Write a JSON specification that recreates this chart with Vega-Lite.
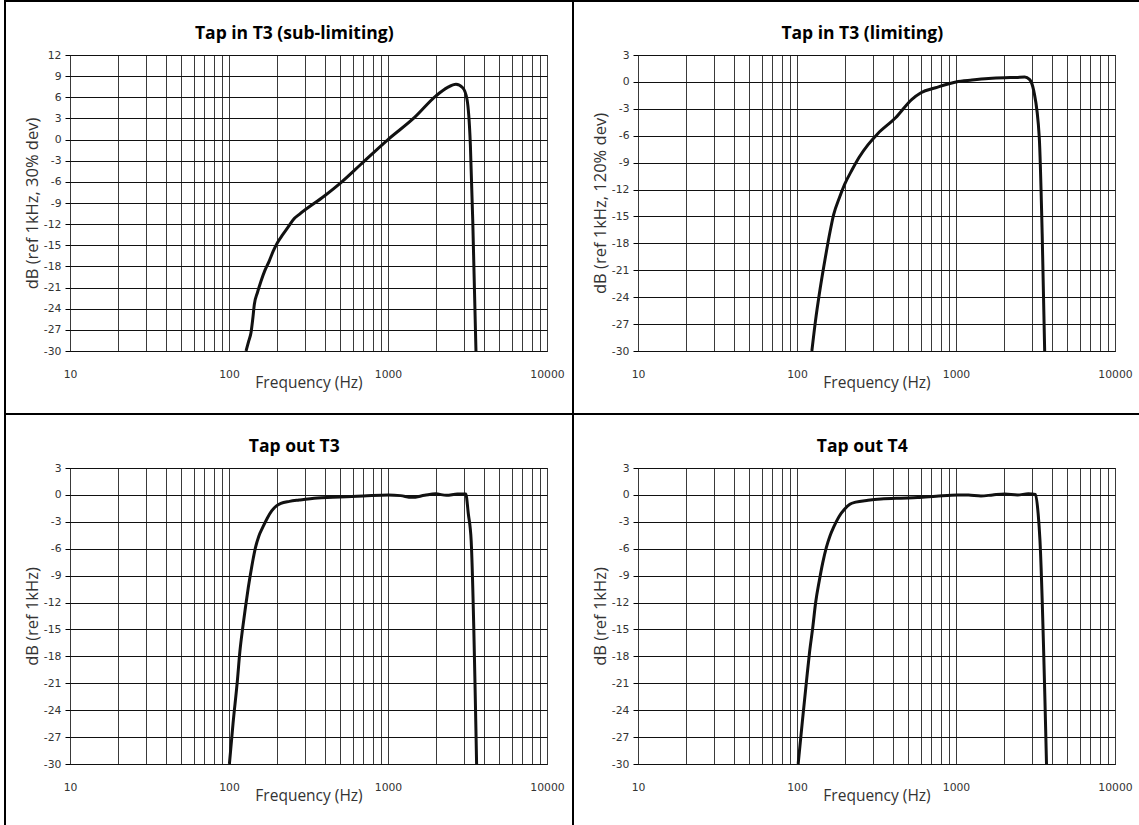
{
  "$schema": "https://vega.github.io/schema/vega-lite/v6.json",
  "background": "white",
  "padding": {"left": 4, "top": 0, "right": 0, "bottom": 0},
  "config": {
    "concat": {"spacing": 0},
    "view": {"stroke": null, "fill": null},
    "axis": {"labelFont": "DejaVu Sans", "labelFontSize": 10.8, "labelColor": "#333", "titleFont": "Open Sans", "titleFontWeight": "normal", "titleColor": "#333"},
    "axisX": {"titleFontSize": 15.5},
    "axisY": {"titleFontSize": 16.5},
    "title": {"font": "Open Sans", "fontSize": 17.5, "fontWeight": "bold", "color": "#000", "offset": 7, "frame": "bounds"}
  },
  "data": {"values": []},
  "datasets": {
    "curves": [
      {"panel": "A", "f": 128, "db": -30}, {"panel": "A", "f": 133, "db": -28.6}, {"panel": "A", "f": 137.5, "db": -27.4}, {"panel": "A", "f": 141, "db": -25.5}, {"panel": "A", "f": 144.3, "db": -23.4}, {"panel": "A", "f": 151, "db": -21.7}, {"panel": "A", "f": 158.9, "db": -20.1}, {"panel": "A", "f": 168, "db": -18.6}, {"panel": "A", "f": 179.3, "db": -17.2}, {"panel": "A", "f": 190, "db": -15.8}, {"panel": "A", "f": 202, "db": -14.6}, {"panel": "A", "f": 216, "db": -13.6}, {"panel": "A", "f": 234, "db": -12.5}, {"panel": "A", "f": 255, "db": -11.3}, {"panel": "A", "f": 277, "db": -10.6}, {"panel": "A", "f": 398, "db": -8.0}, {"panel": "A", "f": 506, "db": -6.1}, {"panel": "A", "f": 676, "db": -3.5}, {"panel": "A", "f": 1000, "db": 0}, {"panel": "A", "f": 1463, "db": 3.1}, {"panel": "A", "f": 2003, "db": 6.2}, {"panel": "A", "f": 2373, "db": 7.4}, {"panel": "A", "f": 2677, "db": 7.84}, {"panel": "A", "f": 2951, "db": 7.36}, {"panel": "A", "f": 3141, "db": 5.7}, {"panel": "A", "f": 3296, "db": -0.7}, {"panel": "A", "f": 3413, "db": -11.6}, {"panel": "A", "f": 3575, "db": -30},
      {"panel": "B", "f": 124, "db": -30}, {"panel": "B", "f": 131, "db": -26.5}, {"panel": "B", "f": 138, "db": -23.7}, {"panel": "B", "f": 150, "db": -19.8}, {"panel": "B", "f": 161.8, "db": -16.6}, {"panel": "B", "f": 170, "db": -14.8}, {"panel": "B", "f": 184, "db": -13.0}, {"panel": "B", "f": 199.6, "db": -11.4}, {"panel": "B", "f": 222, "db": -9.8}, {"panel": "B", "f": 246, "db": -8.4}, {"panel": "B", "f": 280, "db": -7.0}, {"panel": "B", "f": 320.8, "db": -5.8}, {"panel": "B", "f": 417, "db": -4.0}, {"panel": "B", "f": 528, "db": -1.94}, {"panel": "B", "f": 602, "db": -1.2}, {"panel": "B", "f": 744, "db": -0.65}, {"panel": "B", "f": 1000, "db": 0}, {"panel": "B", "f": 1260, "db": 0.21}, {"panel": "B", "f": 1600, "db": 0.38}, {"panel": "B", "f": 2024, "db": 0.47}, {"panel": "B", "f": 2400, "db": 0.5}, {"panel": "B", "f": 2704, "db": 0.55}, {"panel": "B", "f": 2898, "db": 0.29}, {"panel": "B", "f": 3084, "db": -1.0}, {"panel": "B", "f": 3340, "db": -6.2}, {"panel": "B", "f": 3484, "db": -17}, {"panel": "B", "f": 3612, "db": -30},
      {"panel": "C", "f": 100.6, "db": -30}, {"panel": "C", "f": 106, "db": -25.5}, {"panel": "C", "f": 112.9, "db": -20.7}, {"panel": "C", "f": 117, "db": -17.5}, {"panel": "C", "f": 122, "db": -14.8}, {"panel": "C", "f": 127, "db": -12.5}, {"panel": "C", "f": 132.3, "db": -10.3}, {"panel": "C", "f": 139, "db": -8.0}, {"panel": "C", "f": 146.8, "db": -5.84}, {"panel": "C", "f": 154, "db": -4.6}, {"panel": "C", "f": 163.2, "db": -3.6}, {"panel": "C", "f": 174, "db": -2.6}, {"panel": "C", "f": 186, "db": -1.76}, {"panel": "C", "f": 198, "db": -1.25}, {"panel": "C", "f": 212, "db": -0.94}, {"panel": "C", "f": 240, "db": -0.72}, {"panel": "C", "f": 276, "db": -0.57}, {"panel": "C", "f": 360, "db": -0.34}, {"panel": "C", "f": 450, "db": -0.27}, {"panel": "C", "f": 548, "db": -0.2}, {"panel": "C", "f": 700, "db": -0.12}, {"panel": "C", "f": 1005, "db": 0}, {"panel": "C", "f": 1200, "db": -0.08}, {"panel": "C", "f": 1413, "db": -0.27}, {"panel": "C", "f": 1700, "db": -0.05}, {"panel": "C", "f": 1990, "db": 0.12}, {"panel": "C", "f": 2333, "db": -0.05}, {"panel": "C", "f": 2733, "db": 0.1}, {"panel": "C", "f": 3083, "db": 0.1}, {"panel": "C", "f": 3200, "db": -2.1}, {"panel": "C", "f": 3335, "db": -5.1}, {"panel": "C", "f": 3608, "db": -30},
      {"panel": "D", "f": 101.7, "db": -30}, {"panel": "D", "f": 108, "db": -25.3}, {"panel": "D", "f": 114.8, "db": -20.7}, {"panel": "D", "f": 120, "db": -17.5}, {"panel": "D", "f": 125.6, "db": -14.8}, {"panel": "D", "f": 131, "db": -12.0}, {"panel": "D", "f": 138, "db": -9.6}, {"panel": "D", "f": 145, "db": -7.6}, {"panel": "D", "f": 153, "db": -5.84}, {"panel": "D", "f": 161, "db": -4.6}, {"panel": "D", "f": 170, "db": -3.6}, {"panel": "D", "f": 184, "db": -2.4}, {"panel": "D", "f": 199.6, "db": -1.57}, {"panel": "D", "f": 215, "db": -1.05}, {"panel": "D", "f": 234, "db": -0.8}, {"panel": "D", "f": 280, "db": -0.6}, {"panel": "D", "f": 337, "db": -0.46}, {"panel": "D", "f": 450, "db": -0.36}, {"panel": "D", "f": 573, "db": -0.3}, {"panel": "D", "f": 750, "db": -0.15}, {"panel": "D", "f": 1021, "db": 0}, {"panel": "D", "f": 1200, "db": -0.02}, {"panel": "D", "f": 1436, "db": -0.12}, {"panel": "D", "f": 1700, "db": 0}, {"panel": "D", "f": 2024, "db": 0.1}, {"panel": "D", "f": 2437, "db": 0.0}, {"panel": "D", "f": 2851, "db": 0.12}, {"panel": "D", "f": 3163, "db": 0.05}, {"panel": "D", "f": 3286, "db": -2.1}, {"panel": "D", "f": 3374, "db": -5.1}, {"panel": "D", "f": 3709, "db": -30}
    ]
  },
  "columns": 8,
  "align": "each",
  "bounds": "flush",
  "spacing": 0,
  "concat": [
    {"mark": "point", "width": 0.01, "height": 0.01, "view": {"stroke": "#000", "strokeWidth": 2}},
    {"mark": "point", "width": 64, "height": 0.01, "view": {"stroke": "#000", "strokeWidth": 2}},
    {"mark": "point", "width": 477, "height": 0.01, "view": {"stroke": "#000", "strokeWidth": 2}},
    {"mark": "point", "width": 26, "height": 0.01, "view": {"stroke": "#000", "strokeWidth": 2}},
    {"mark": "point", "width": 0.01, "height": 0.01, "view": {"stroke": "#000", "strokeWidth": 2}},
    {"mark": "point", "width": 64, "height": 0.01, "view": {"stroke": "#000", "strokeWidth": 2}},
    {"mark": "point", "width": 477, "height": 0.01, "view": {"stroke": "#000", "strokeWidth": 2}},
    {"mark": "point", "width": 26, "height": 0.01, "view": {"stroke": "#000", "strokeWidth": 2}},

    {"mark": "point", "width": 0.01, "height": 53, "view": {"stroke": "#000", "strokeWidth": 2}},
    {"mark": "point", "width": 0.01, "height": 0.01},
    {"mark": "point", "width": 0.01, "height": 0.01},
    {"mark": "point", "width": 0.01, "height": 0.01},
    {"mark": "point", "width": 0.01, "height": 53, "view": {"stroke": "#000", "strokeWidth": 2}},
    {"mark": "point", "width": 0.01, "height": 0.01},
    {"mark": "point", "width": 0.01, "height": 0.01},
    {"mark": "point", "width": 0.01, "height": 0.01},

    {"mark": "point", "width": 0.01, "height": 296, "view": {"stroke": "#000", "strokeWidth": 2}},
    {"mark": "point", "width": 0.01, "height": 0.01},
    {
      "width": 477, "height": 296,
      "view": {"stroke": "#000", "strokeWidth": 1},
      "data": {"name": "curves"},
      "transform": [{"filter": "datum.panel === 'A'"}],
      "title": {"text": "Tap in T3 (sub-limiting)"},
      "mark": {"type": "line", "color": "#111", "strokeWidth": 3, "interpolate": "monotone"},
      "encoding": {
        "x": {"field": "f", "type": "quantitative", "scale": {"type": "log", "domain": [10, 10000], "nice": false},
          "axis": {"values": [10,20,30,40,50,60,70,80,90,100,200,300,400,500,600,700,800,900,1000,2000,3000,4000,5000,6000,7000,8000,9000,10000], "format": "d", "labelExpr": "indexof([10,100,1000,10000], datum.value) >= 0 ? datum.label : ''", "labelOverlap": false, "labelFlush": false, "ticks": false, "tickSize": 0, "domain": false, "grid": true, "gridColor": "#3a3a3a", "gridWidth": 1, "labelPadding": 17, "title": "Frequency (Hz)", "titleY": 24, "titleBaseline": "top"}},
        "y": {"field": "db", "type": "quantitative", "scale": {"domain": [-30, 12], "nice": false, "zero": false},
          "axis": {"values": [-30,-27,-24,-21,-18,-15,-12,-9,-6,-3,0,3,6,9,12], "labelExpr": "'' + datum.value", "grid": true, "gridColor": "#111", "domain": false, "ticks": true, "tickSize": 5, "tickColor": "#000", "labelPadding": 4, "labelOverlap": false, "title": "dB (ref 1kHz, 30% dev)", "titlePadding": 3}}
      }
    },
    {"mark": "point", "width": 0.01, "height": 0.01},
    {"mark": "point", "width": 0.01, "height": 296, "view": {"stroke": "#000", "strokeWidth": 2}},
    {"mark": "point", "width": 0.01, "height": 0.01},
    {
      "width": 477, "height": 296,
      "view": {"stroke": "#000", "strokeWidth": 1},
      "data": {"name": "curves"},
      "transform": [{"filter": "datum.panel === 'B'"}],
      "title": {"text": "Tap in T3 (limiting)"},
      "mark": {"type": "line", "color": "#111", "strokeWidth": 3, "interpolate": "monotone"},
      "encoding": {
        "x": {"field": "f", "type": "quantitative", "scale": {"type": "log", "domain": [10, 10000], "nice": false},
          "axis": {"values": [10,20,30,40,50,60,70,80,90,100,200,300,400,500,600,700,800,900,1000,2000,3000,4000,5000,6000,7000,8000,9000,10000], "format": "d", "labelExpr": "indexof([10,100,1000,10000], datum.value) >= 0 ? datum.label : ''", "labelOverlap": false, "labelFlush": false, "ticks": false, "tickSize": 0, "domain": false, "grid": true, "gridColor": "#3a3a3a", "gridWidth": 1, "labelPadding": 17, "title": "Frequency (Hz)", "titleY": 24, "titleBaseline": "top"}},
        "y": {"field": "db", "type": "quantitative", "scale": {"domain": [-30, 3], "nice": false, "zero": false},
          "axis": {"values": [-30,-27,-24,-21,-18,-15,-12,-9,-6,-3,0,3], "labelExpr": "'' + datum.value", "grid": true, "gridColor": "#111", "domain": false, "ticks": true, "tickSize": 5, "tickColor": "#000", "labelPadding": 4, "labelOverlap": false, "title": "dB (ref 1kHz, 120% dev)", "titlePadding": 3}}
      }
    },
    {"mark": "point", "width": 0.01, "height": 0.01},

    {"mark": "point", "width": 0.01, "height": 63, "view": {"stroke": "#000", "strokeWidth": 2}},
    {"mark": "point", "width": 0.01, "height": 0.01},
    {"mark": "point", "width": 0.01, "height": 0.01},
    {"mark": "point", "width": 0.01, "height": 0.01},
    {"mark": "point", "width": 0.01, "height": 63, "view": {"stroke": "#000", "strokeWidth": 2}},
    {"mark": "point", "width": 0.01, "height": 0.01},
    {"mark": "point", "width": 0.01, "height": 0.01},
    {"mark": "point", "width": 0.01, "height": 0.01},

    {"mark": "point", "width": 0.01, "height": 0.01, "view": {"stroke": "#000", "strokeWidth": 2}},
    {"mark": "point", "width": 64, "height": 0.01, "view": {"stroke": "#000", "strokeWidth": 2}},
    {"mark": "point", "width": 477, "height": 0.01, "view": {"stroke": "#000", "strokeWidth": 2}},
    {"mark": "point", "width": 26, "height": 0.01, "view": {"stroke": "#000", "strokeWidth": 2}},
    {"mark": "point", "width": 0.01, "height": 0.01, "view": {"stroke": "#000", "strokeWidth": 2}},
    {"mark": "point", "width": 64, "height": 0.01, "view": {"stroke": "#000", "strokeWidth": 2}},
    {"mark": "point", "width": 477, "height": 0.01, "view": {"stroke": "#000", "strokeWidth": 2}},
    {"mark": "point", "width": 26, "height": 0.01, "view": {"stroke": "#000", "strokeWidth": 2}},

    {"mark": "point", "width": 0.01, "height": 53, "view": {"stroke": "#000", "strokeWidth": 2}},
    {"mark": "point", "width": 0.01, "height": 0.01},
    {"mark": "point", "width": 0.01, "height": 0.01},
    {"mark": "point", "width": 0.01, "height": 0.01},
    {"mark": "point", "width": 0.01, "height": 53, "view": {"stroke": "#000", "strokeWidth": 2}},
    {"mark": "point", "width": 0.01, "height": 0.01},
    {"mark": "point", "width": 0.01, "height": 0.01},
    {"mark": "point", "width": 0.01, "height": 0.01},

    {"mark": "point", "width": 0.01, "height": 296, "view": {"stroke": "#000", "strokeWidth": 2}},
    {"mark": "point", "width": 0.01, "height": 0.01},
    {
      "width": 477, "height": 296,
      "view": {"stroke": "#000", "strokeWidth": 1},
      "data": {"name": "curves"},
      "transform": [{"filter": "datum.panel === 'C'"}],
      "title": {"text": "Tap out T3"},
      "mark": {"type": "line", "color": "#111", "strokeWidth": 3, "interpolate": "monotone"},
      "encoding": {
        "x": {"field": "f", "type": "quantitative", "scale": {"type": "log", "domain": [10, 10000], "nice": false},
          "axis": {"values": [10,20,30,40,50,60,70,80,90,100,200,300,400,500,600,700,800,900,1000,2000,3000,4000,5000,6000,7000,8000,9000,10000], "format": "d", "labelExpr": "indexof([10,100,1000,10000], datum.value) >= 0 ? datum.label : ''", "labelOverlap": false, "labelFlush": false, "ticks": false, "tickSize": 0, "domain": false, "grid": true, "gridColor": "#3a3a3a", "gridWidth": 1, "labelPadding": 17, "title": "Frequency (Hz)", "titleY": 24, "titleBaseline": "top"}},
        "y": {"field": "db", "type": "quantitative", "scale": {"domain": [-30, 3], "nice": false, "zero": false},
          "axis": {"values": [-30,-27,-24,-21,-18,-15,-12,-9,-6,-3,0,3], "labelExpr": "'' + datum.value", "grid": true, "gridColor": "#111", "domain": false, "ticks": true, "tickSize": 5, "tickColor": "#000", "labelPadding": 4, "labelOverlap": false, "title": "dB (ref 1kHz)", "titlePadding": 3}}
      }
    },
    {"mark": "point", "width": 0.01, "height": 0.01},
    {"mark": "point", "width": 0.01, "height": 296, "view": {"stroke": "#000", "strokeWidth": 2}},
    {"mark": "point", "width": 0.01, "height": 0.01},
    {
      "width": 477, "height": 296,
      "view": {"stroke": "#000", "strokeWidth": 1},
      "data": {"name": "curves"},
      "transform": [{"filter": "datum.panel === 'D'"}],
      "title": {"text": "Tap out T4"},
      "mark": {"type": "line", "color": "#111", "strokeWidth": 3, "interpolate": "monotone"},
      "encoding": {
        "x": {"field": "f", "type": "quantitative", "scale": {"type": "log", "domain": [10, 10000], "nice": false},
          "axis": {"values": [10,20,30,40,50,60,70,80,90,100,200,300,400,500,600,700,800,900,1000,2000,3000,4000,5000,6000,7000,8000,9000,10000], "format": "d", "labelExpr": "indexof([10,100,1000,10000], datum.value) >= 0 ? datum.label : ''", "labelOverlap": false, "labelFlush": false, "ticks": false, "tickSize": 0, "domain": false, "grid": true, "gridColor": "#3a3a3a", "gridWidth": 1, "labelPadding": 17, "title": "Frequency (Hz)", "titleY": 24, "titleBaseline": "top"}},
        "y": {"field": "db", "type": "quantitative", "scale": {"domain": [-30, 3], "nice": false, "zero": false},
          "axis": {"values": [-30,-27,-24,-21,-18,-15,-12,-9,-6,-3,0,3], "labelExpr": "'' + datum.value", "grid": true, "gridColor": "#111", "domain": false, "ticks": true, "tickSize": 5, "tickColor": "#000", "labelPadding": 4, "labelOverlap": false, "title": "dB (ref 1kHz)", "titlePadding": 3}}
      }
    },
    {"mark": "point", "width": 0.01, "height": 0.01},

    {"mark": "point", "width": 0.01, "height": 63, "view": {"stroke": "#000", "strokeWidth": 2}},
    {"mark": "point", "width": 0.01, "height": 0.01},
    {"mark": "point", "width": 0.01, "height": 0.01},
    {"mark": "point", "width": 0.01, "height": 0.01},
    {"mark": "point", "width": 0.01, "height": 63, "view": {"stroke": "#000", "strokeWidth": 2}},
    {"mark": "point", "width": 0.01, "height": 0.01},
    {"mark": "point", "width": 0.01, "height": 0.01},
    {"mark": "point", "width": 0.01, "height": 0.01}
  ]
}
